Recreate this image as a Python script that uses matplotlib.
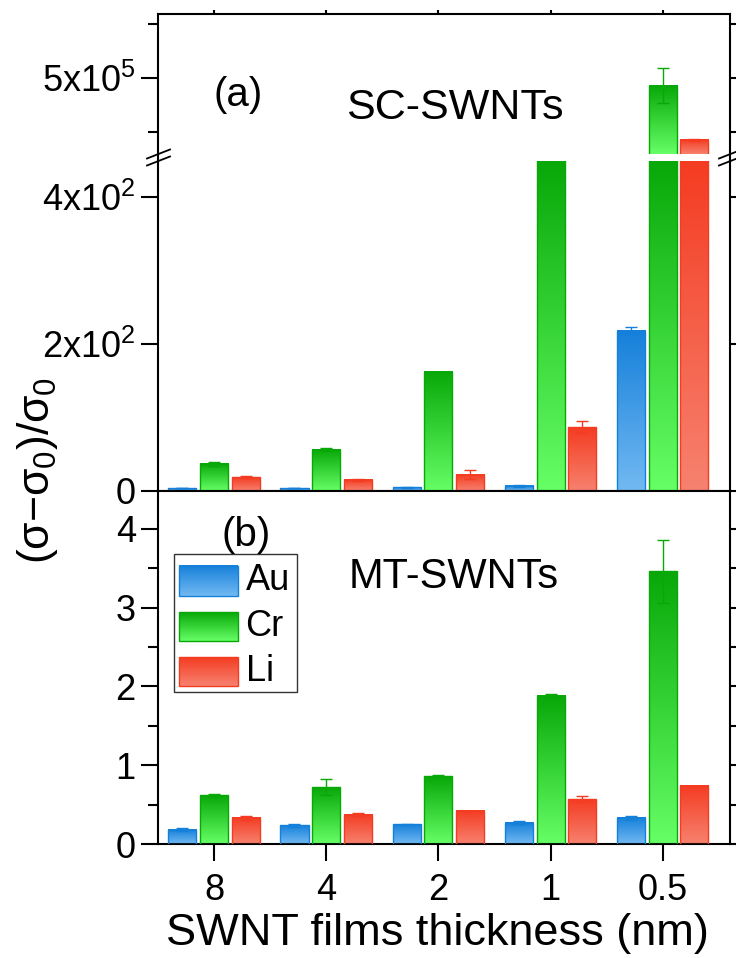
import numpy as np
import matplotlib
matplotlib.use("Agg")
import matplotlib.pyplot as plt
from matplotlib.colors import LinearSegmentedColormap
from matplotlib.lines import Line2D
from matplotlib.patches import Rectangle

plt.rcParams['font.family'] = ['Liberation Sans', 'DejaVu Sans']
plt.rcParams['mathtext.fontset'] = 'custom'
plt.rcParams['mathtext.rm'] = 'Liberation Sans'
plt.rcParams['mathtext.it'] = 'Liberation Sans'

# data
thickness = ['8', '4', '2', '1', '0.5']
metals = ['Au', 'Cr', 'Li']

# (a) SC-SWNTs
sc_au = [4, 4, 5, 7, 218]
sc_au_err = [0.5, 0.5, 1, 1.5, 5]
sc_cr = [37, 56, 162, 1500, 4.93e5]
sc_cr_err = [3, 2, 0, 0, 1.6e4]
sc_li = [19, 15, 22, 87, 4.43e5]
sc_li_err = [1, 1, 6, 8, 1.0e3]

# (b) MT-SWNTs
mt_au = [0.18, 0.24, 0.25, 0.27, 0.33]
mt_au_err = [0.02, 0.02, 0.01, 0.02, 0.02]
mt_cr = [0.62, 0.72, 0.86, 1.88, 3.46]
mt_cr_err = [0.02, 0.10, 0.02, 0.03, 0.40]
mt_li = [0.33, 0.37, 0.42, 0.57, 0.74]
mt_li_err = [0.02, 0.02, 0.0, 0.04, 0.0]

# top colour (dark) -> bottom colour (light)
grad_colors = {
    'Au': ('#1580DA', '#72B9F2'),
    'Cr': ('#08A808', '#66FF66'),
    'Li': ('#F43C22', '#F7826F'),
}
cmaps = {k: LinearSegmentedColormap.from_list(k, [v[1], v[0]]) for k, v in grad_colors.items()}
grad = np.linspace(0, 1, 256).reshape(-1, 1)

W, H = 736, 958
fig = plt.figure(figsize=(W / 100, H / 100), dpi=100)


def fx(px):
    return px / W


def fy(py):
    return 1 - py / H


L, R = 158, 730
ax_up = fig.add_axes([fx(L), fy(154), (R - L) / W, (154 - 14) / H])
ax_lo = fig.add_axes([fx(L), fy(491), (R - L) / W, (491 - 161) / H])
ax_b = fig.add_axes([fx(L), fy(844), (R - L) / W, (844 - 491) / H])

ylims = {ax_up: (4.30e5, 5.59e5), ax_lo: (0, 449), ax_b: (0, 4.48)}
xlim = (-0.5, 4.6)
width = 0.25
offsets = [-0.283, 0, 0.283]
x = np.arange(len(thickness))


def gradient_bars(ax, vals, errs, metal, off):
    lo, hi = ylims[ax]
    bars = ax.bar(x + off, vals, width, facecolor='none',
                  edgecolor=grad_colors[metal][0], linewidth=1, zorder=3)
    for rect in bars:
        h = rect.get_height()
        top = min(h, hi)
        bot = max(0, lo)
        if top <= bot:
            continue
        ax.imshow(grad, cmap=cmaps[metal], aspect='auto', origin='lower',
                  extent=[rect.get_x(), rect.get_x() + rect.get_width(), bot, top],
                  zorder=2, interpolation='bilinear')
    ax.errorbar(x + off, vals, yerr=errs, fmt='none', ecolor=grad_colors[metal][0],
                elinewidth=1, capsize=4.5, capthick=1, zorder=4)


for ax in (ax_up, ax_lo):
    gradient_bars(ax, sc_au, sc_au_err, 'Au', offsets[0])
    gradient_bars(ax, sc_cr, sc_cr_err, 'Cr', offsets[1])
    gradient_bars(ax, sc_li, sc_li_err, 'Li', offsets[2])

gradient_bars(ax_b, mt_au, mt_au_err, 'Au', offsets[0])
gradient_bars(ax_b, mt_cr, mt_cr_err, 'Cr', offsets[1])
gradient_bars(ax_b, mt_li, mt_li_err, 'Li', offsets[2])

for ax in (ax_up, ax_lo, ax_b):
    ax.set_xlim(*xlim)
    ax.set_ylim(*ylims[ax])
    for s in ax.spines.values():
        s.set_linewidth(1.5)
    ax.tick_params(which='major', direction='out', length=12, width=1.5,
                   labelsize=26, pad=4, right=True, labelright=False)
    ax.tick_params(which='minor', direction='out', length=7, width=1.5,
                   right=True)
    ax.set_xticks(x)

# upper part of broken axis
ax_up.spines['bottom'].set_visible(False)
ax_up.set_yticks([5e5])
ax_up.set_yticklabels([r'5x10$^{5}$'])
ax_up.set_yticks([4.5e5, 5.5e5], minor=True)
ax_up.tick_params(axis='x', bottom=False, labelbottom=False, top=True,
                  length=3)

# lower part of broken axis
ax_lo.spines['top'].set_visible(False)
ax_lo.set_yticks([0, 200, 400])
ax_lo.set_yticklabels(['0', r'2x10$^{2}$', r'4x10$^{2}$'])
ax_lo.tick_params(axis='x', labelbottom=False)

# panel b
ax_b.set_yticks([0, 1, 2, 3, 4])
ax_b.set_yticks(np.arange(0.5, 4.5, 1), minor=True)
ax_b.set_xticklabels(thickness)
ax_b.tick_params(axis='x', pad=9)

# spine segments and break marks in the gap
for sx in (L, R):
    fig.add_artist(Line2D([fx(sx), fx(sx)], [fy(154), fy(161)], color='k', lw=1.5))
    for yc in (154, 161):
        fig.add_artist(Line2D([fx(sx - 11), fx(sx + 12)], [fy(yc + 4.5), fy(yc - 4.5)],
                              color='k', lw=1.3))

# legend (panel b)
ax_b.add_patch(Rectangle((0.028, 0.431), 0.215, 0.391, transform=ax_b.transAxes,
                         facecolor='white', edgecolor='#333333', lw=1, zorder=5))
leg_y = [(0.703, 0.788), (0.575, 0.657), (0.448, 0.530)]
for metal, (y0, y1) in zip(metals, leg_y):
    ax_b.imshow(grad, cmap=cmaps[metal], aspect='auto', origin='lower',
                extent=[0.037, 0.140, y0, y1], transform=ax_b.transAxes, zorder=6)
    ax_b.add_patch(Rectangle((0.037, y0), 0.103, y1 - y0, transform=ax_b.transAxes,
                             facecolor='none', edgecolor=grad_colors[metal][0],
                             lw=1, zorder=7))
    ax_b.text(0.153, (y0 + y1) / 2, metal, transform=ax_b.transAxes, fontsize=26,
              va='center', ha='left', zorder=7)
ax_b.set_xlim(*xlim)
ax_b.set_ylim(*ylims[ax_b])

# texts
fig.text(fx(238), fy(95), '(a)', fontsize=29, ha='center', va='center')
fig.text(fx(455), fy(108), 'SC-SWNTs', fontsize=31, ha='center', va='center')
fig.text(fx(246), fy(535), '(b)', fontsize=29, ha='center', va='center')
fig.text(fx(454), fy(577), 'MT-SWNTs', fontsize=30, ha='center', va='center')
fig.text(fx(437), fy(945), 'SWNT films thickness (nm)', fontsize=32.5,
         ha='center', va='baseline')
fig.text(fx(38), fy(470), r'($\sigma$$-$$\sigma_0$)/$\sigma_0$', fontsize=32,
         rotation=90, ha='center', va='center')

fig.savefig('out.png', dpi=100)
